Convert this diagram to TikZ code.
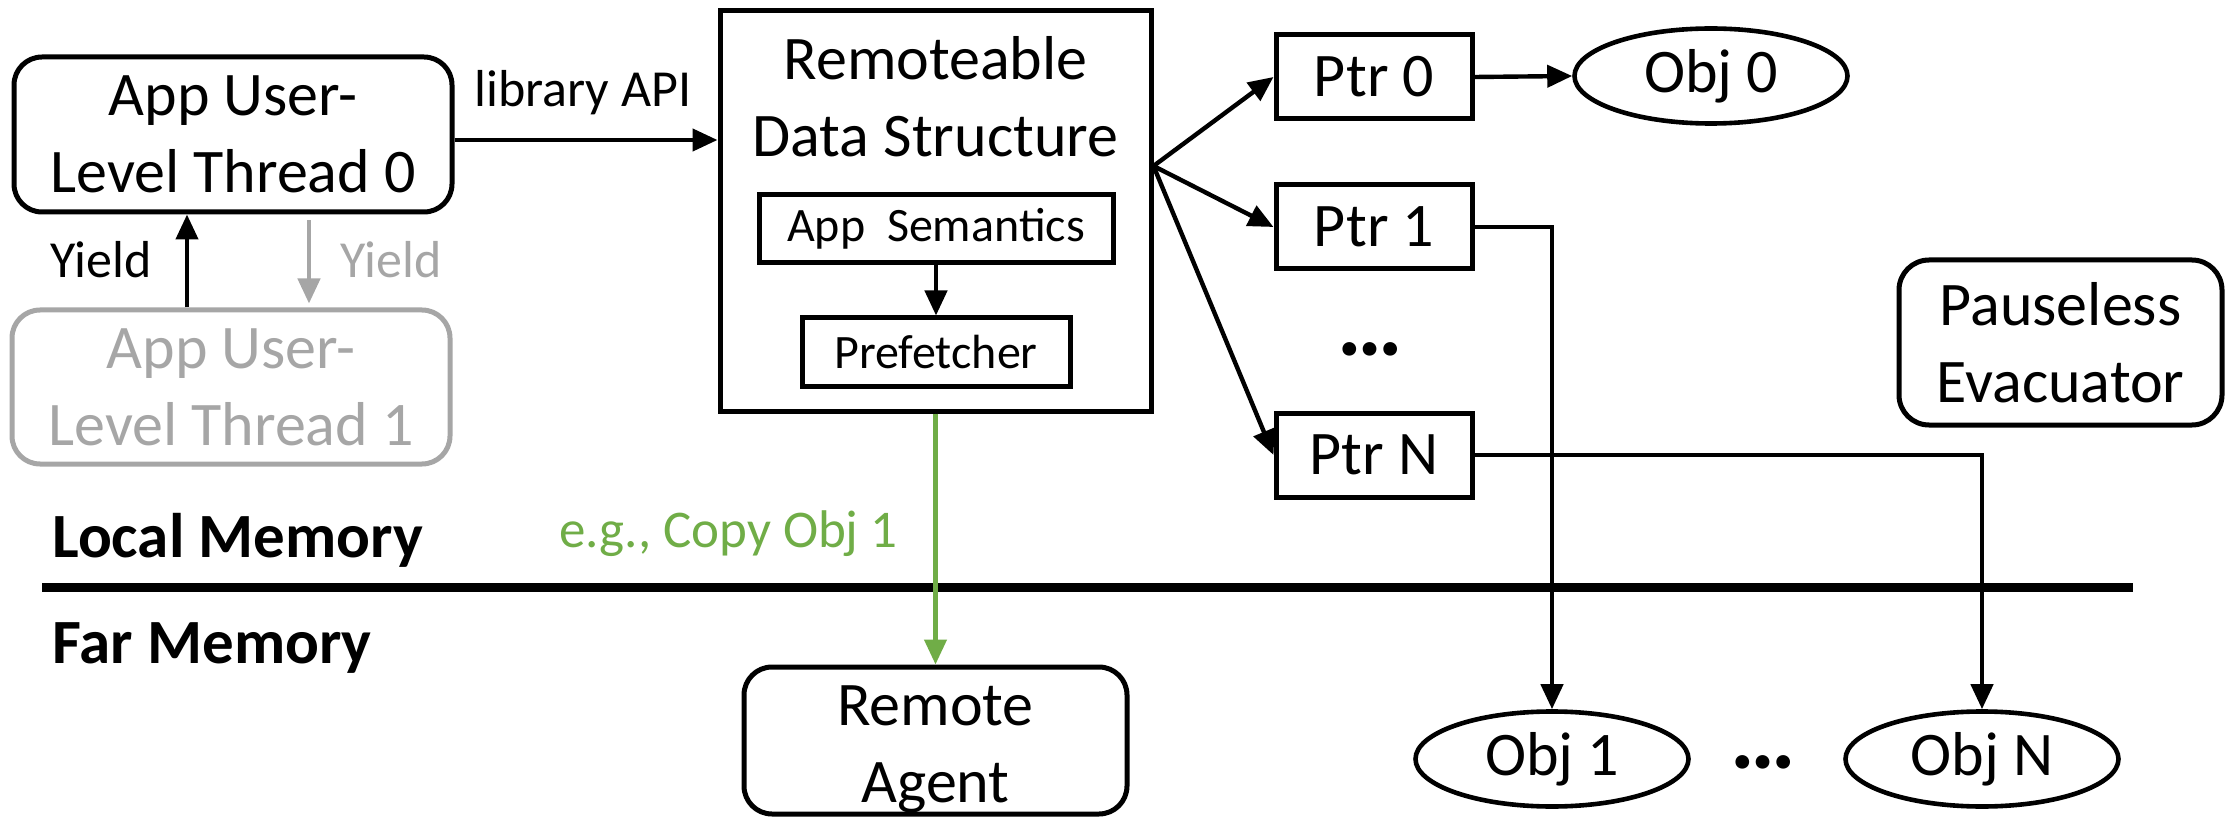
\documentclass[tikz,border=0pt]{standalone}
\usepackage{fontspec}
\setmainfont{Carlito}
\usetikzlibrary{arrows.meta,shapes.geometric}
\definecolor{lgray}{HTML}{A6A6A6}
\definecolor{lgreen}{HTML}{70AD47}
\begin{document}
\begin{tikzpicture}[x=0.5pt,y=-0.5pt,
  box/.style={draw,line width=2.5pt,inner sep=0pt,align=center,font=\fontsize{31}{38.5}\selectfont},
  rbox/.style={box,rounded corners=14pt},
  subbox/.style={box,font=\fontsize{24}{29}\selectfont},
  obj/.style={ellipse,draw,line width=2.3pt,inner sep=0pt,font=\fontsize{31}{38.5}\selectfont,minimum width=136.5pt,minimum height=47.5pt},
  lbl/.style={inner sep=0pt,anchor=base west,font=\fontsize{26}{31}\selectfont},
  memlbl/.style={inner sep=0pt,anchor=base west,font=\fontsize{31.5}{38}\selectfont\bfseries},
  dots/.style={inner sep=0pt,font=\fontsize{46}{50}\selectfont\bfseries},
  arr/.style={line width=2.2pt,-{Triangle[length=12.5pt,width=11pt]}},
  garr/.style={arr,draw=lgray,fill=lgray},
  grarr/.style={arr,draw=lgreen,fill=lgreen}]
\useasboundingbox (0,0) rectangle (2234,818);

% threads
\node[rbox,minimum width=219pt,minimum height=77.5pt] (t0) at (233,134.5) {App User-\\Level Thread 0};
\node[rbox,draw=lgray,text=lgray,minimum width=219pt,minimum height=77pt] (t1) at (231,387) {App User-\\Level Thread 1};
\coordinate (ya) at (187,0);
\coordinate (yb) at (309,0);
\draw[arr] (ya |- t1.north) -- (ya |- t0.south);
\draw[garr,shorten <=3pt,shorten >=2pt] (yb |- t0.south) -- (yb |- t1.north);
\node[lbl] (yl0) at (50,278) {Yield};
\node[lbl,text=lgray] (yl1) at (340,278) {Yield};

% data structure
\node[box,minimum width=215.5pt,minimum height=200pt] (ds) at (935.5,211) {};
\node[inner sep=0pt,anchor=base,font=\fontsize{31}{38.5}\selectfont] (dst1) at (935.5,80) {Remoteable};
\node[inner sep=0pt,anchor=base,font=\fontsize{31}{38.5}\selectfont] (dst2) at (935.5,157) {Data Structure};
\node[subbox,minimum width=177pt,minimum height=34pt] (sem) at (936,229) {App\ \ Semantics};
\node[subbox,minimum width=134pt,minimum height=34.5pt] (pre) at (936,352.5) {Prefetcher};
\draw[arr] (sem.south) -- (pre.north);

\coordinate (la) at (0,140);
\draw[arr] (t0.east |- la) -- (ds.west |- la);
\node[lbl] (lib) at (474,107) {library API};

% pointers
\node[box,minimum width=98pt,minimum height=42pt] (p0) at (1374,77) {Ptr 0};
\node[box,minimum width=98pt,minimum height=42pt] (p1) at (1374,227) {Ptr 1};
\node[box,minimum width=98pt,minimum height=42pt] (pN) at (1374,455) {Ptr N};
\node[dots,anchor=base] (d1) at (1370,356) {…};
\coordinate (fan) at (ds.east |- 0,166);
\draw[arr] (fan) -- (p0.west);
\draw[arr] (fan) -- (p1.west);
\draw[arr] (fan) -- (pN.west);

% objects
\node[obj] (o0) at (1711,76) {Obj 0};
\node[obj] (o1) at (1552,759) {Obj 1};
\node[obj] (oN) at (1982,759) {Obj N};
\node[dots,anchor=base] (d2) at (1763,768) {…};
\draw[arr] (p0.east) -- (o0.west);
\draw[arr] (p1.east) -| (o1.north);
\draw[arr] (pN.east) -| (oN.north);

\node[rbox,rounded corners=15pt,minimum width=161.5pt,minimum height=82.5pt] (pev) at (2060.5,342.5) {Pauseless\\Evacuator};

% memory split
\draw[line width=4.5pt] (42,587.5) -- (2133,587.5);
\node[memlbl] (lm) at (52,557) {Local Memory};
\node[memlbl] (fm) at (52,663) {Far Memory};

% remote agent
\node[rbox,minimum width=191.5pt,minimum height=73.5pt] (ra) at (935.5,740.5) {};
\node[inner sep=0pt,align=center,font=\fontsize{31}{38.5}\selectfont] (ratxt) at ([yshift=-4.5pt]ra.center) {Remote\\Agent};
\draw[grarr] (ds.south) -- (ra.north);
\node[lbl,text=lgreen,font=\fontsize{26.5}{31}\selectfont] (cp) at (559,547) {e.g., Copy Obj 1};
\end{tikzpicture}
\end{document}
